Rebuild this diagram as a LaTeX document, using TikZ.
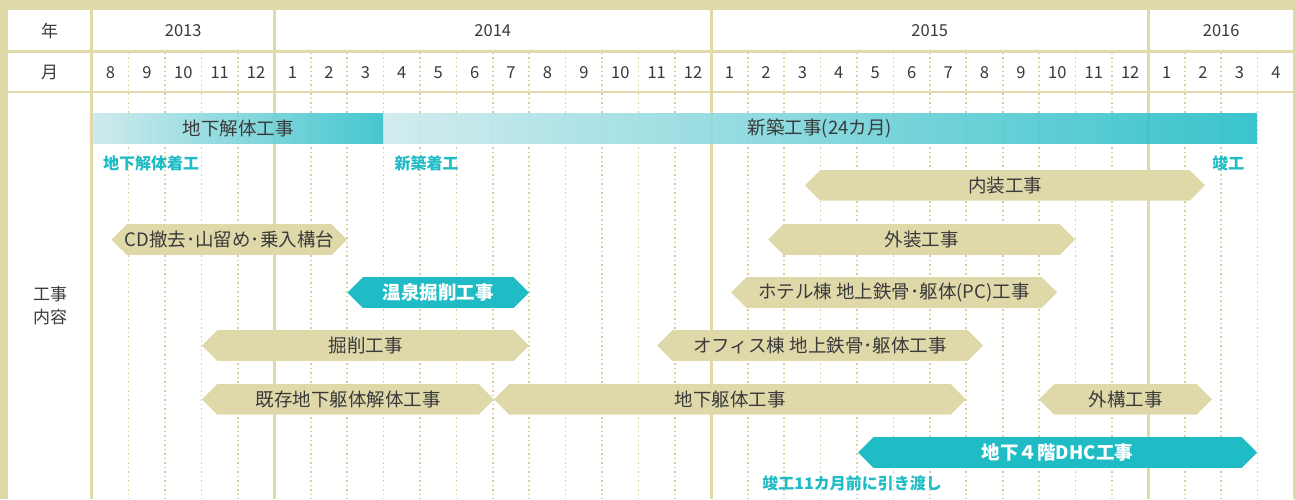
\documentclass[tikz,border=0pt]{standalone}
\usepackage{fontspec}
\setmainfont{Noto Sans CJK JP}
\definecolor{ctan}{HTML}{E0DAAA}
\definecolor{cdot}{HTML}{D8CF96}
\definecolor{cbar}{HTML}{DFD9AA}
\definecolor{cteal}{HTML}{1FBCC6}
\definecolor{clight}{HTML}{C8E8EB}
\definecolor{ctext}{HTML}{3A3A3A}
\newcommand\hexbar[7]{%
  \fill[#5] (#2,#4) -- ({#2+15.3},{#4-15.3}) -- ({#3-15.3},{#4-15.3}) -- (#3,#4)
     -- ({#3-15.3},{#4+15.3}) -- ({#2+15.3},{#4+15.3}) -- cycle;
  \node[#6] (#1) at ({(#2+#3)/2},#4) {#7};
}
\begin{document}
\begin{tikzpicture}[x=1pt,y=-1pt,
  rule/.style={draw=ctan,line width=2.7pt},
  dotline/.style={draw=cdot,line width=1.6pt,dash pattern=on 1.6pt off 2.9pt},
  hdr/.style={inner sep=0pt,text=ctext,font=\fontsize{16.5}{18}\selectfont},
  hdrjp/.style={inner sep=0pt,text=ctext,font=\fontsize{17}{19}\selectfont},
  bartxt/.style={inner sep=0pt,text=ctext,font=\fontsize{18.5}{20}\selectfont},
  barbold/.style={inner sep=0pt,text=white,font=\bfseries\fontsize{18.5}{20}\selectfont},
  teallab/.style={inner sep=0pt,text=cteal,font=\bfseries\fontsize{16}{18}\selectfont},
  tanfill/.style={fill=cbar},
  tealfill/.style={fill=cteal}]
\useasboundingbox (0,0) rectangle (1295,499);
\fill[white] (0,0) rectangle (1295,499);
% frame
\fill[ctan] (0,0) rectangle (1295,9.5);
\fill[ctan] (0,0) rectangle (8,499);
\draw[ctan,line width=1.6pt] (1294.2,9) -- (1294.2,499);
% dotted month lines
\foreach \m in {1,2,3,4,6,7,8,9,10,11,12,13,14,15,16,18,19,20,21,22,23,24,25,26,27,28,30,31,32}
  \draw[dotline] ({92.2+\m*36.42},52.5) -- ({92.2+\m*36.42},499);
% horizontal rules
\draw[rule] (8,51.2) -- (1294,51.2);
\draw[rule] (8,92) -- (1294,92);
% solid vertical rules
\foreach \x in {91.8,274.3,711.3,1148.4}
  \draw[rule] (\x,9) -- (\x,499);
% header
\node[hdrjp] (nen) at (49.5,31) {年};
\node[hdrjp] (tsuki) at (49.5,72.5) {月};
\node[hdr] (y2013) at (183.2,31) {2013};
\node[hdr] (y2014) at (492.8,31) {2014};
\node[hdr] (y2015) at (929.8,31) {2015};
\node[hdr] (y2016) at (1221.2,31) {2016};
\foreach \lab [count=\i from 0] in {8,9,10,11,12,1,2,3,4,5,6,7,8,9,10,11,12,1,2,3,4,5,6,7,8,9,10,11,12,1,2,3,4}
  \node[hdr] (m\i) at ({92.2+(\i+0.5)*36.42},72.5) {\lab};
% side label
\node[hdrjp] (koji) at (50,294.5) {工事};
\node[hdrjp] (naiyo) at (50,317.5) {内容};
% gradient bars
\shade[left color=clight,right color=cteal!92!clight,opacity=0.88] (93.3,113.3) rectangle (383.3,143.3);
\shade[left color=clight!92!white,right color=cteal,opacity=0.88] (383.3,113.3) rectangle (1257.2,143.3);
\node[bartxt] (kaitai) at (238,128.3) {地下解体工事};
\node[bartxt] (shinchiku) at (820,128.3) {新築工事(24カ月)};
\node[teallab] (l1) at (151,163.5) {地下解体着工};
\node[teallab] (l2) at (426.7,163.5) {新築着工};
\node[teallab] (l3) at (1228.3,163.5) {竣工};
% hex bars
\hexbar{naiso}{805}{1205}{185.3}{tanfill}{bartxt}{内装工事}
\hexbar{cd}{111.5}{347}{239.5}{tanfill}{bartxt}{CD撤去･山留め･乗入構台}
\hexbar{gaiso}{768}{1075}{239.5}{tanfill}{bartxt}{外装工事}
\hexbar{onsen}{347.5}{529}{292.5}{tealfill}{barbold}{温泉掘削工事}
\hexbar{hotel}{731}{1057}{292.5}{tanfill}{bartxt}{ホテル棟 地上鉄骨･躯体(PC)工事}
\hexbar{kussaku}{202}{529}{345.5}{tanfill}{bartxt}{掘削工事}
\hexbar{office}{657}{983}{345.5}{tanfill}{bartxt}{オフィス棟 地上鉄骨･躯体工事}
\hexbar{kizon}{202}{494}{399.3}{tanfill}{bartxt}{既存地下躯体解体工事}
\hexbar{kutai}{494}{966}{399.3}{tanfill}{bartxt}{地下躯体工事}
\hexbar{gaiko}{1039}{1212}{399.3}{tanfill}{bartxt}{外構工事}
\hexbar{dhc}{858}{1257}{452.5}{tealfill}{barbold}{地下４階DHC工事}
\node[teallab] (l4) at (852,483.5) {竣工11カ月前に引き渡し};
\end{tikzpicture}
\end{document}
